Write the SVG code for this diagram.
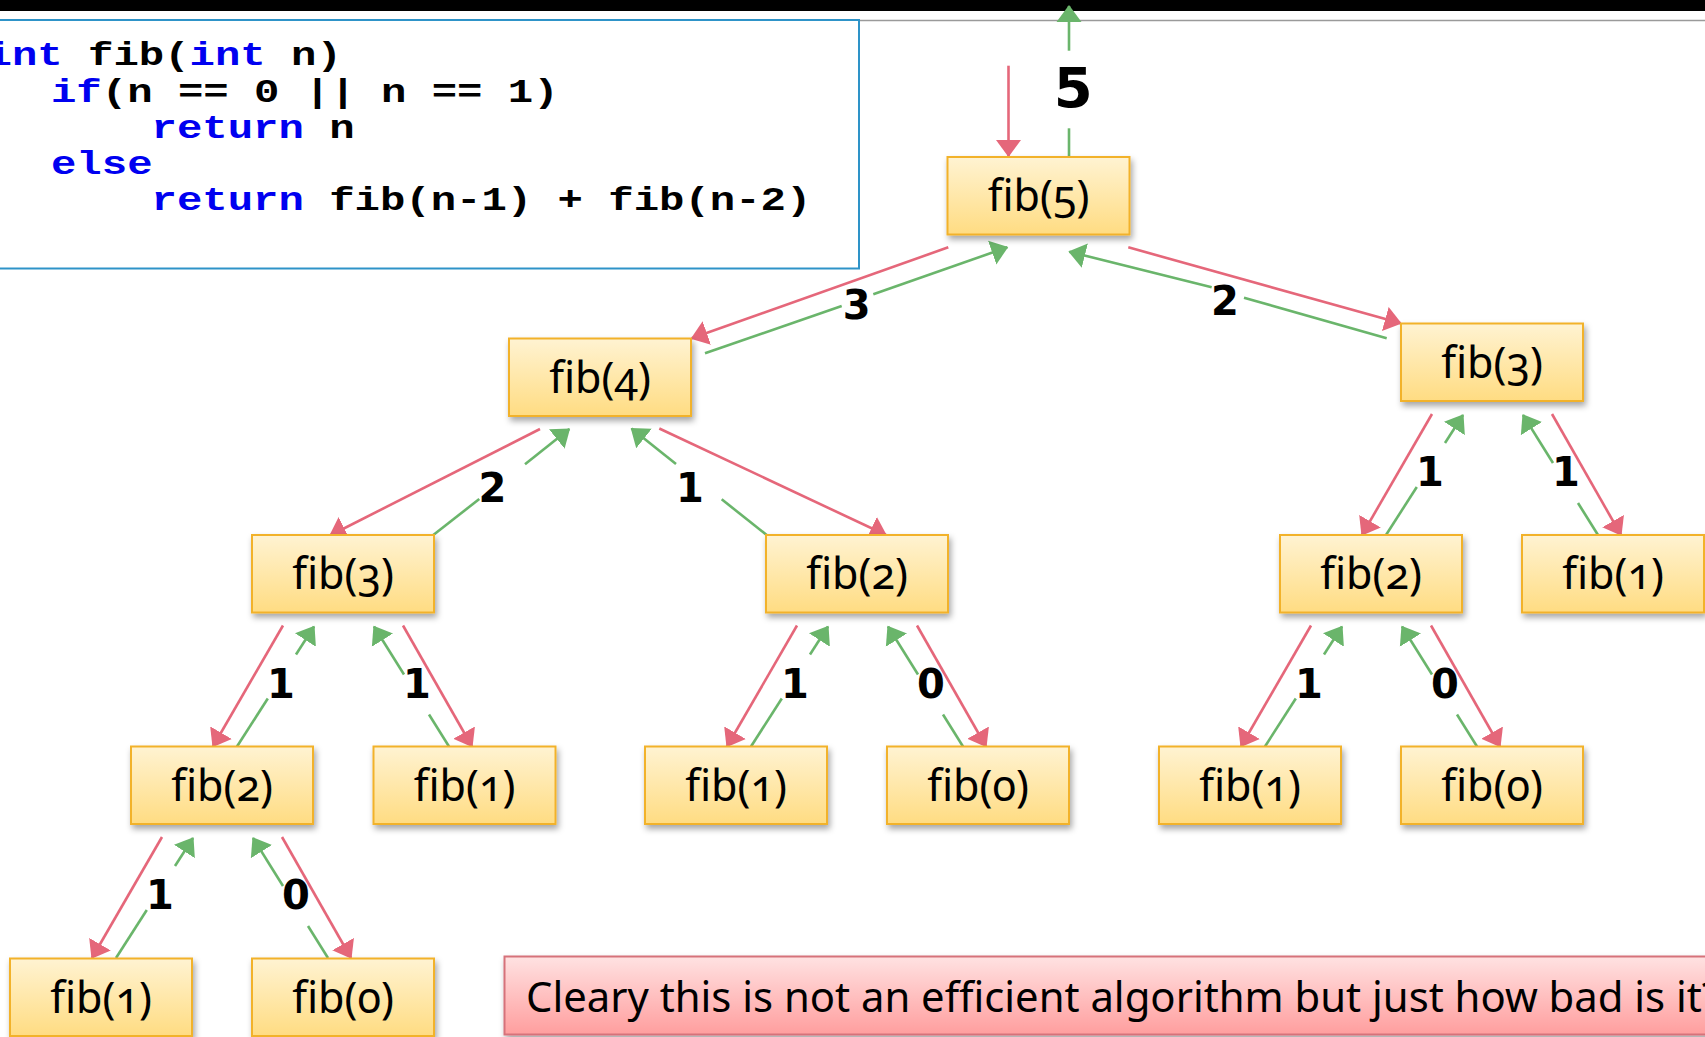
<svg xmlns="http://www.w3.org/2000/svg" width="1705" height="1037" viewBox="0 0 1705 1037">
<defs>
  <linearGradient id="gNode" x1="0" y1="0" x2="0" y2="1">
    <stop offset="0" stop-color="#FFF3D2"/>
    <stop offset="1" stop-color="#FFDC82"/>
  </linearGradient>
  <linearGradient id="gPink" x1="0" y1="0" x2="0" y2="1">
    <stop offset="0" stop-color="#FFE2E2"/>
    <stop offset="1" stop-color="#FF9E9E"/>
  </linearGradient>
  <filter id="shadow" x="-10%" y="-20%" width="130%" height="160%">
    <feDropShadow dx="2" dy="4" stdDeviation="3" flood-color="#000" flood-opacity="0.35"/>
  </filter>
  <marker id="arR" markerUnits="userSpaceOnUse" markerWidth="18" markerHeight="26" refX="16" refY="13" orient="auto" viewBox="0 0 18 26">
    <path d="M0,0.5 L17,13 L0,25.5 z" fill="#E5677A"/>
  </marker>
  <marker id="arG" markerUnits="userSpaceOnUse" markerWidth="18" markerHeight="26" refX="16" refY="13" orient="auto" viewBox="0 0 18 26">
    <path d="M0,0.5 L17,13 L0,25.5 z" fill="#6AB56B"/>
  </marker>
</defs>
<style>
  .node rect { fill: url(#gNode); stroke: #F2B22C; stroke-width: 2; filter: url(#shadow); }
  .node text { font-family: "Noto Sans", "Open Sans", sans-serif; font-size: 43px; text-anchor: middle; fill: #000; font-variant-numeric: oldstyle-nums; font-feature-settings: "onum" 1; }
  .red { stroke: #E5677A; stroke-width: 2.6; fill: none; }
  .grn { stroke: #6AB56B; stroke-width: 2.6; fill: none; }
  .red.a { marker-end: url(#arR); }
  .grn.a { marker-end: url(#arG); }
  .lbl { font-family: "DejaVu Sans", Verdana, sans-serif; font-weight: bold; font-size: 40px; text-anchor: middle; fill: #000; }
  .code { font-family: "Liberation Mono", "Courier New", monospace; font-weight: bold; font-size: 42.3px; fill: #000; }
  .kw { fill: #0000F0; }
</style>

<rect x="0" y="0" width="1705" height="11" fill="#000"/>
<line x1="0" y1="20.5" x2="1705" y2="20.5" stroke="#9A9A9A" stroke-width="1.5"/>

<g id="code-box">
  <rect x="-5" y="20" width="864" height="248.5" fill="#fff" stroke="#2E93C8" stroke-width="2"/>
  <text class="code" x="-13.5" y="0" transform="matrix(1 0 0 0.8 0 65)"><tspan class="kw">int</tspan> fib(<tspan class="kw">int</tspan> n)</text>
  <text class="code" x="51" y="0" transform="matrix(1 0 0 0.8 0 101.5)"><tspan class="kw">if</tspan>(n == 0 || n == 1)</text>
  <text class="code" x="151.5" y="0" transform="matrix(1 0 0 0.8 0 137.5)"><tspan class="kw">return</tspan> n</text>
  <text class="code" x="51" y="0" transform="matrix(1 0 0 0.8 0 173.5)"><tspan class="kw">else</tspan></text>
  <text class="code" x="151.5" y="0" transform="matrix(1 0 0 0.8 0 209.5)"><tspan class="kw">return</tspan> fib(n-1) + fib(n-2)</text>
</g>

<g id="connectors">
  <line class="red a" x1="1008.5" y1="65.7" x2="1008.5" y2="156"/>
  <line class="grn" x1="1069" y1="157" x2="1069" y2="128.3"/>
  <line class="grn a" x1="1069" y1="50.7" x2="1069" y2="6"/>
  <line class="red a" x1="948.3" y1="247.3" x2="691.7" y2="338.3"/>
  <line class="grn" x1="705" y1="353.3" x2="841.7" y2="306"/>
  <line class="grn a" x1="873.3" y1="294.3" x2="1007.3" y2="247.3"/>
  <line class="red a" x1="1128.3" y1="247.3" x2="1400.7" y2="323.3"/>
  <line class="grn" x1="1386.7" y1="338.3" x2="1244" y2="297.7"/>
  <line class="grn a" x1="1211.7" y1="287.3" x2="1069.3" y2="251.7"/>
  <line class="red a" x1="540" y1="429" x2="330" y2="535.5"/>
  <line class="grn" x1="433.3" y1="535" x2="479.3" y2="499"/>
  <line class="grn a" x1="525" y1="464.3" x2="569.3" y2="429"/>
  <line class="grn" x1="766.7" y1="535" x2="721.7" y2="499.3"/>
  <line class="grn a" x1="676" y1="464" x2="631.5" y2="428.5"/>
  <line class="red a" x1="659.3" y1="428.5" x2="886" y2="535"/>
  <line class="red a" x1="283" y1="625.5" x2="213" y2="746.5"/>
  <line class="grn" x1="237" y1="746.5" x2="267.8" y2="698.5"/>
  <line class="grn a" x1="296" y1="654.5" x2="314" y2="626.5"/>
  <line class="grn" x1="449" y1="746.5" x2="429" y2="714.5"/>
  <line class="grn a" x1="404" y1="674.5" x2="374" y2="626.5"/>
  <line class="red a" x1="403" y1="625.5" x2="472" y2="746.5"/>
  <line class="red a" x1="797" y1="625.5" x2="727" y2="746.5"/>
  <line class="grn" x1="751" y1="746.5" x2="781.8" y2="698.5"/>
  <line class="grn a" x1="810" y1="654.5" x2="828" y2="626.5"/>
  <line class="grn" x1="963" y1="746.5" x2="943" y2="714.5"/>
  <line class="grn a" x1="918" y1="674.5" x2="888" y2="626.5"/>
  <line class="red a" x1="917" y1="625.5" x2="986" y2="746.5"/>
  <line class="red a" x1="1311" y1="625.5" x2="1241" y2="746.5"/>
  <line class="grn" x1="1265" y1="746.5" x2="1295.8" y2="698.5"/>
  <line class="grn a" x1="1324" y1="654.5" x2="1342" y2="626.5"/>
  <line class="grn" x1="1477" y1="746.5" x2="1457" y2="714.5"/>
  <line class="grn a" x1="1432" y1="674.5" x2="1402" y2="626.5"/>
  <line class="red a" x1="1431" y1="625.5" x2="1500" y2="746.5"/>
  <line class="red a" x1="1432" y1="414" x2="1362" y2="535"/>
  <line class="grn" x1="1386" y1="535" x2="1416.8" y2="487"/>
  <line class="grn a" x1="1445" y1="443" x2="1463" y2="415"/>
  <line class="grn" x1="1598" y1="535" x2="1578" y2="503"/>
  <line class="grn a" x1="1553" y1="463" x2="1523" y2="415"/>
  <line class="red a" x1="1552" y1="414" x2="1621" y2="535"/>
  <line class="red a" x1="162" y1="837" x2="92" y2="958"/>
  <line class="grn" x1="116" y1="958" x2="146.8" y2="910"/>
  <line class="grn a" x1="175" y1="866" x2="193" y2="838"/>
  <line class="grn" x1="328" y1="958" x2="308" y2="926"/>
  <line class="grn a" x1="283" y1="886" x2="253" y2="838"/>
  <line class="red a" x1="282" y1="837" x2="351" y2="958"/>
</g>

<g id="edge-labels">
  <text class="lbl" x="1073.3" y="107.3" style="font-size:56px">5</text>
  <text class="lbl" x="856.7" y="319.3">3</text>
  <text class="lbl" x="1225" y="315">2</text>
  <text class="lbl" x="492.5" y="501.7">2</text>
  <text class="lbl" x="690" y="501.7">1</text>
  <text class="lbl" x="1430" y="486">1</text>
  <text class="lbl" x="1566" y="486">1</text>
  <text class="lbl" x="281" y="697.5">1</text>
  <text class="lbl" x="417" y="697.5">1</text>
  <text class="lbl" x="795" y="697.5">1</text>
  <text class="lbl" x="931" y="697.5">0</text>
  <text class="lbl" x="1309" y="697.5">1</text>
  <text class="lbl" x="1445" y="697.5">0</text>
  <text class="lbl" x="160" y="909">1</text>
  <text class="lbl" x="296" y="909">0</text>
</g>

<g id="node-fib5" class="node"><rect x="947.5" y="157" width="182" height="77.5"/><text x="1038.5" y="211">fib(5)</text></g>
<g id="node-fib4" class="node"><rect x="509" y="338.5" width="182" height="77.5"/><text x="600" y="392.5">fib(4)</text></g>
<g id="node-fib3-right" class="node"><rect x="1401" y="323.5" width="182" height="77.5"/><text x="1492" y="377.5">fib(3)</text></g>
<g id="node-fib3-left" class="node"><rect x="252" y="535" width="182" height="77.5"/><text x="343" y="589">fib(3)</text></g>
<g id="node-fib2-mid" class="node"><rect x="766" y="535" width="182" height="77.5"/><text x="857" y="589">fib(2)</text></g>
<g id="node-fib2-right" class="node"><rect x="1280" y="535" width="182" height="77.5"/><text x="1371" y="589">fib(2)</text></g>
<g id="node-fib1-r3" class="node"><rect x="1522" y="535" width="182" height="77.5"/><text x="1613" y="589">fib(1)</text></g>
<g id="node-fib2-r4" class="node"><rect x="131" y="746.5" width="182" height="77.5"/><text x="222" y="800.5">fib(2)</text></g>
<g id="node-fib1-a" class="node"><rect x="373.5" y="746.5" width="182" height="77.5"/><text x="464.5" y="800.5">fib(1)</text></g>
<g id="node-fib1-b" class="node"><rect x="645" y="746.5" width="182" height="77.5"/><text x="736" y="800.5">fib(1)</text></g>
<g id="node-fib0-a" class="node"><rect x="887" y="746.5" width="182" height="77.5"/><text x="978" y="800.5">fib(0)</text></g>
<g id="node-fib1-c" class="node"><rect x="1159" y="746.5" width="182" height="77.5"/><text x="1250" y="800.5">fib(1)</text></g>
<g id="node-fib0-b" class="node"><rect x="1401" y="746.5" width="182" height="77.5"/><text x="1492" y="800.5">fib(0)</text></g>
<g id="node-fib1-d" class="node"><rect x="10" y="958.5" width="182" height="77.5"/><text x="101" y="1012.5">fib(1)</text></g>
<g id="node-fib0-c" class="node"><rect x="252" y="958.5" width="182" height="77.5"/><text x="343" y="1012.5">fib(0)</text></g>

<g id="note">
  <rect x="504.5" y="956.5" width="1230" height="78" fill="url(#gPink)" stroke="#D6727A" stroke-width="2" filter="url(#shadow)"/>
  <text x="526" y="1011.5" font-family="'Noto Sans', 'Open Sans', sans-serif" font-size="41" fill="#000" textLength="1194" lengthAdjust="spacingAndGlyphs">Cleary this is not an efficient algorithm but just how bad is it?</text>
</g>
</svg>
